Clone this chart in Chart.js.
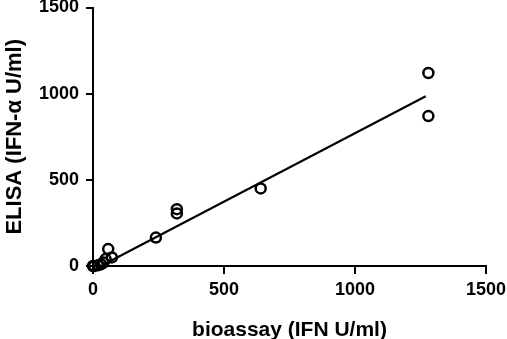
<!DOCTYPE html>
<html>
<head>
<meta charset="utf-8">
<script src="https://cdn.jsdelivr.net/npm/chart.js@4.4.1/dist/chart.umd.min.js"></script>
<style>
  html, body { margin: 0; padding: 0; background: #fff; }
  #wrap { width: 507px; height: 339px; }
</style>
</head>
<body>
<div id="wrap"><canvas id="c" width="507" height="339"></canvas></div>
<script>
// Bioassay vs ELISA measurements (IFN U/ml)
const bioassay = [1280, 1280, 640, 320, 320, 240, 58, 72, 48, 40, 30, 20, 5, 0];
const elisa    = [1120, 870, 450, 330, 305, 165, 98, 50, 40, 20, 10, 5, 0, 0];

// Linear regression line endpoints
const fitX = [30, 1270];
const fitY = [0, 985];

const xTicks = [0, 500, 1000, 1500];
const yTicks = [0, 500, 1000, 1500];

const xTitle = 'bioassay (IFN U/ml)';
const yTitle = 'ELISA (IFN-\u03b1 U/ml)';

Chart.defaults.font.family = '"Liberation Sans", Arial, sans-serif';
Chart.defaults.font.weight = 'bold';
Chart.defaults.color = '#000';

const points = bioassay.map((x, i) => ({ x: x, y: elisa[i] }));
const fit = fitX.map((x, i) => ({ x: x, y: fitY[i] }));

const plain = v => String(v);

new Chart(document.getElementById('c'), {
  type: 'scatter',
  data: {
    datasets: [
      {
        data: fit,
        showLine: true,
        borderColor: '#000',
        borderWidth: 2,
        pointRadius: 0,
        clip: false
      },
      {
        data: points,
        pointStyle: 'circle',
        pointRadius: 5,
        pointBorderWidth: 2.5,
        pointBorderColor: '#000',
        pointBackgroundColor: 'rgba(255,255,255,0)',
        clip: false
      }
    ]
  },
  options: {
    responsive: false,
    animation: false,
    layout: { padding: { top: 7, right: 21, left: 0, bottom: 0 } },
    plugins: { legend: { display: false }, tooltip: { enabled: false } },
    scales: {
      x: {
        type: 'linear',
        min: 0, max: 1500,
        afterBuildTicks: s => { s.ticks = xTicks.map(v => ({ value: v })); },
        afterFit: s => { s.height = 73; s.paddingLeft = 0; s.paddingRight = 0; },
        border: { display: true, color: '#000', width: 2 },
        grid: { display: true, drawOnChartArea: false, drawTicks: true, tickLength: 8, color: '#000', lineWidth: 2 },
        ticks: { font: { size: 18, weight: 'bold' }, padding: 5, color: '#000', maxRotation: 0, callback: plain },
        title: { display: true, text: xTitle, font: { size: 21, weight: 'bold' }, color: '#000', padding: { top: 4, bottom: -4 } }
      },
      y: {
        type: 'linear',
        min: 0, max: 1500,
        afterBuildTicks: s => { s.ticks = yTicks.map(v => ({ value: v })); },
        afterFit: s => { s.width = 93; s.paddingTop = 0; s.paddingBottom = 0; },
        border: { display: true, color: '#000', width: 2 },
        grid: { display: true, drawOnChartArea: false, drawTicks: true, tickLength: 7, color: '#000', lineWidth: 2 },
        ticks: { font: { size: 18, weight: 'bold' }, padding: 7, color: '#000', callback: plain },
        title: { display: true, text: yTitle, font: { size: 22, weight: 'bold' }, color: '#000', padding: { top: 2, bottom: 0 } }
      }
    }
  }
});
</script>
</body>
</html>
